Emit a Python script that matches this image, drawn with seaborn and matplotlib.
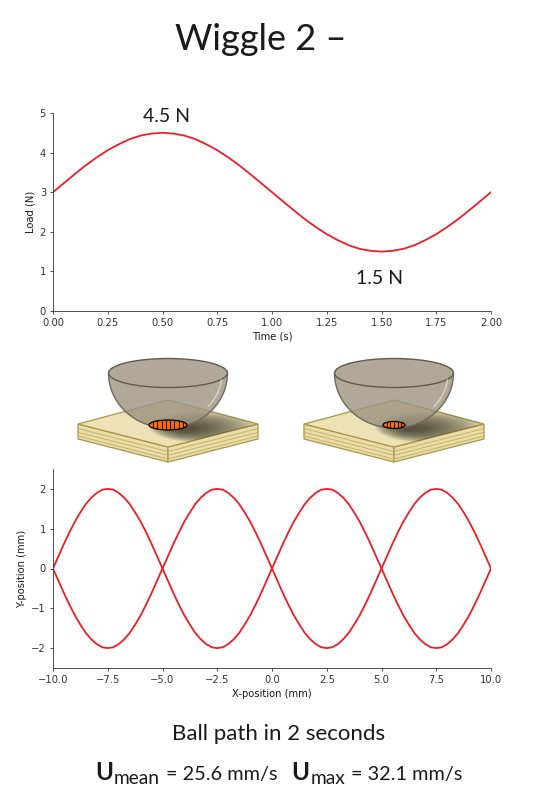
import numpy as np
import pandas as pd
import seaborn as sns
import matplotlib.pyplot as plt
from matplotlib.patches import Polygon, Ellipse

time_s = np.linspace(0, 2, 41)
load_n = [3.00, 3.23, 3.46, 3.68, 3.88, 4.06, 4.21, 4.34, 4.43, 4.48, 4.50,
          4.48, 4.43, 4.34, 4.21, 4.06, 3.88, 3.68, 3.46, 3.23, 3.00,
          2.77, 2.54, 2.32, 2.12, 1.94, 1.79, 1.66, 1.57, 1.52, 1.50,
          1.52, 1.57, 1.66, 1.79, 1.94, 2.12, 2.32, 2.54, 2.77, 3.00]
peak_label = "4.5 N"
trough_label = "1.5 N"

# ball path (mm): outward pass, x every 0.25 mm; the return pass mirrors it
path_x = np.linspace(-10, 10, 81)
path_y_out = [0.00, 0.31, 0.62, 0.91, 1.18, 1.41, 1.62, 1.78, 1.90, 1.98, 2.00,
              1.98, 1.90, 1.78, 1.62, 1.41, 1.18, 0.91, 0.62, 0.31, 0.00,
              -0.31, -0.62, -0.91, -1.18, -1.41, -1.62, -1.78, -1.90, -1.98, -2.00,
              -1.98, -1.90, -1.78, -1.62, -1.41, -1.18, -0.91, -0.62, -0.31, 0.00,
              0.31, 0.62, 0.91, 1.18, 1.41, 1.62, 1.78, 1.90, 1.98, 2.00,
              1.98, 1.90, 1.78, 1.62, 1.41, 1.18, 0.91, 0.62, 0.31, 0.00,
              -0.31, -0.62, -0.91, -1.18, -1.41, -1.62, -1.78, -1.90, -1.98, -2.00,
              -1.98, -1.90, -1.78, -1.62, -1.41, -1.18, -0.91, -0.62, -0.31, 0.00]
path_y_back = [-v for v in path_y_out]

u_mean = 25.6
u_max = 32.1

path = pd.concat([
    pd.DataFrame({"x": path_x, "y": path_y_out, "leg": "out"}),
    pd.DataFrame({"x": path_x[::-1], "y": path_y_back[::-1], "leg": "back"}),
])

sns.set_style("ticks")
plt.rcParams["font.family"] = ["DejaVu Sans"]
plt.rcParams.update({
    "xtick.labelsize": 7.2, "ytick.labelsize": 7.2, "axes.labelsize": 7.2,
    "xtick.major.size": 2.5, "ytick.major.size": 2.5,
    "xtick.major.width": 0.6, "ytick.major.width": 0.6,
    "axes.linewidth": 0.6, "xtick.major.pad": 2.5, "ytick.major.pad": 2.5,
    "axes.labelpad": 2.8,
    "axes.edgecolor": "0.2", "xtick.color": "0.2", "ytick.color": "0.2",
    "text.color": "0.1", "axes.labelcolor": "0.1",
})

W, H = 552, 811
fig = plt.figure(figsize=(W / 100, H / 100), dpi=100)


def box(left, top, right, bottom):
    return [left / W, 1 - bottom / H, (right - left) / W, (bottom - top) / H]


# top panel: load vs time
ax1 = fig.add_axes(box(53, 113, 491, 311))
sns.lineplot(x=time_s, y=load_n, color="#ee1c25", linewidth=1.3, ax=ax1)
ax1.set_xlim(0, 2)
ax1.set_ylim(0, 5)
ax1.set_xticks(np.arange(0, 2.01, 0.25))
ax1.set_xlabel("Time (s)")
ax1.set_ylabel("Load (N)")
sns.despine(ax=ax1)
ax1.text(0.52, 4.78, peak_label, ha="center", va="baseline",
         family="Lato", fontsize=14)
ax1.text(1.49, 0.68, trough_label, ha="center", va="baseline",
         family="Lato", fontsize=14)

# bottom panel: ball path
ax2 = fig.add_axes(box(53, 469, 491, 668))
sns.lineplot(data=path, x="x", y="y", units="leg", estimator=None, sort=False,
             color="#ee1c25", linewidth=1.3, ax=ax2)
ax2.set_xlim(-10, 10)
ax2.set_ylim(-2.5, 2.5)
ax2.set_xticks(np.arange(-10, 10.1, 2.5))
ax2.set_yticks([-2, -1, 0, 1, 2])
ax2.set_xlabel("X-position (mm)")
ax2.set_ylabel("Y-position (mm)")
sns.despine(ax=ax2)

# sketch of the ball-on-flat contact between the panels (pixel units)
ax3 = fig.add_axes(box(53, 351, 491, 469))
ax3.set_xlim(0, 438)
ax3.set_ylim(0, 118)
ax3.axis("off")


def P(x, y):
    # image pixel -> sketch axes coords
    return (x - 53, 469 - y)


def draw_contact(c, pw, ph, nstripes):
    edge = "#a8964a"
    top = [P(c - 90, 424), P(c, 400), P(c + 90, 424), P(c, 447)]
    lside = [P(c - 90, 424), P(c, 447), P(c, 462), P(c - 90, 439)]
    rside = [P(c, 447), P(c + 90, 424), P(c + 90, 439), P(c, 462)]
    for pts in (lside, rside):
        ax3.add_patch(Polygon(pts, closed=True, fc="#e9dca6", ec=edge, lw=0.9))
    for f in (0.3, 0.55, 0.8):
        ax3.plot(*zip(P(c - 90, 424 + 15 * f), P(c, 447 + 15 * f)),
                 color="#bfae62", lw=0.6)
        ax3.plot(*zip(P(c, 447 + 15 * f), P(c + 90, 424 + 15 * f)),
                 color="#bfae62", lw=0.6)
    face = Polygon(top, closed=True, fc="#ede2b6", ec=edge, lw=0.9)
    ax3.add_patch(face)
    # soft shadow on the flat
    n = 24
    for i in range(n):
        k = 1 - i / (n + 2)
        sh = Ellipse(P(c + 14 + 22 * k, 429 - 2 * k), 110 * k, 32 * k,
                     fc="#2e2c24", ec="none", alpha=0.06)
        sh.set_clip_path(face)
        ax3.add_patch(sh)
    # bowl (hemisphere) body and rim
    cx, cy = P(c, 373)
    th = np.linspace(np.pi, 2 * np.pi, 80)
    lower = np.c_[cx + 59.5 * np.cos(th), cy + 55 * np.sin(th)]
    th2 = np.linspace(0, np.pi, 80)
    upper = np.c_[cx + 59.5 * np.cos(th2), cy + 14.5 * np.sin(th2)]
    body = np.vstack([lower, upper])
    ax3.add_patch(Polygon(body, closed=True, fc="#9c937f", ec="none", alpha=0.8))
    ax3.plot(lower[:, 0], lower[:, 1], color="#6e6a5c", lw=1.0)
    ax3.add_patch(Ellipse((cx, cy), 119, 29, fc="none", ec="#5f5b4f", lw=1.0))
    th3 = np.radians(np.linspace(-8, -42, 30))
    ax3.plot(cx + 54 * np.cos(th3), cy + 50 * np.sin(th3),
             color="#d6d1c2", lw=1.1)
    # contact patch with fringes
    pc = P(c, 425)
    patch = Ellipse(pc, pw, ph, fc="#ff6a00", ec="black", lw=0.9, zorder=5)
    ax3.add_patch(patch)
    for xs in np.linspace(pc[0] - pw / 2, pc[0] + pw / 2, nstripes + 2)[1:-1]:
        ln, = ax3.plot([xs, xs], [pc[1] - ph / 2, pc[1] + ph / 2],
                       color="black", lw=0.7, zorder=6)
        ln.set_clip_path(patch)


draw_contact(168, 38, 10, 8)
draw_contact(394, 22, 7, 5)

# titles and captions
fig.text(260.5 / W, 1 - 50 / H, "Wiggle 2 \u2013", ha="center", va="baseline",
         family="Lato", fontsize=26)
fig.text(279 / W, 1 - 740 / H, "Ball path in 2 seconds", ha="center",
         va="baseline", family="Lato", fontsize=16)

pieces = [
    ("U", 17.5, "bold", 0, 1),
    ("mean", 13.8, "normal", 4, 6),
    (f"= {u_mean} mm/s", 14.3, "normal", 0, 14),
    ("U", 17.5, "bold", 0, 1),
    ("max", 13.8, "normal", 4, 6),
    (f"= {u_max} mm/s", 14.3, "normal", 0, 0),
]
renderer = fig.canvas.get_renderer()
items = []
for s, size, weight, dy, gap in pieces:
    t = fig.text(0, 0, s, fontsize=size, fontweight=weight, family="Lato",
                 ha="left", va="baseline")
    items.append((t, t.get_window_extent(renderer).width, dy, gap))
total = sum(w + g for _, w, _, g in items)
x = 278.8 - total / 2
for t, w, dy, gap in items:
    t.set_position((x / W, 1 - (780 + dy) / H))
    x += w + gap

fig.savefig("out.png", dpi=100)
